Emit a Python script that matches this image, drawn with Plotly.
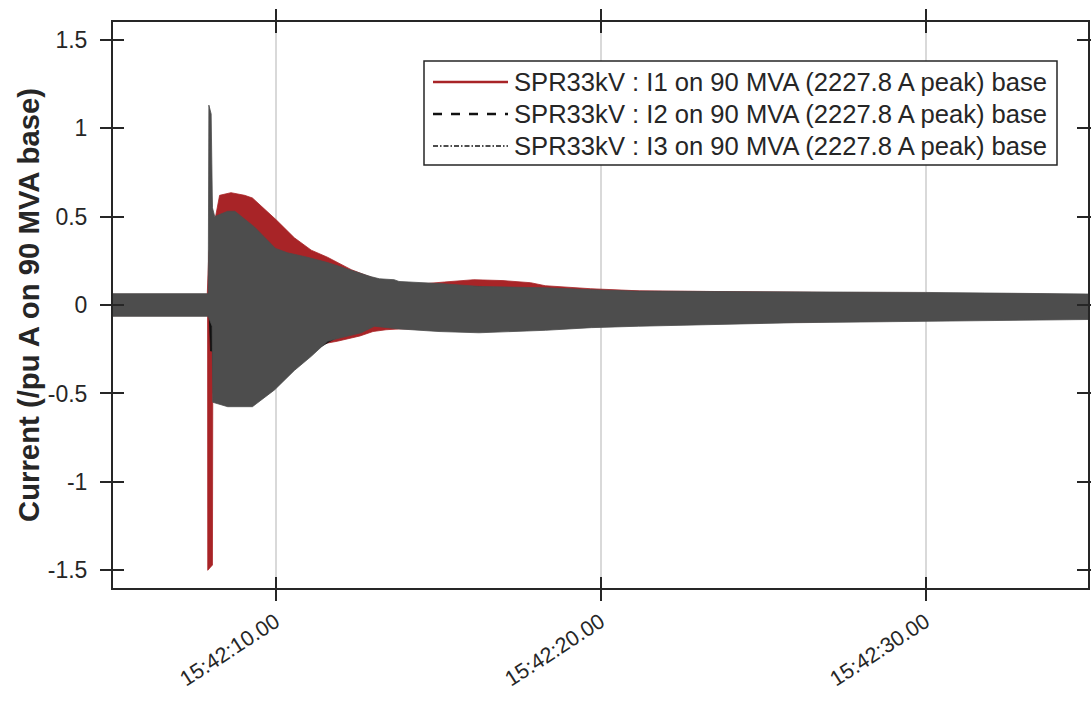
import plotly.graph_objects as go

DAY = "2019-08-09"

# ---- data: envelopes of the recorded phase currents (pu), time in s after 15:42:00 ----
i1_t_up = [5.0, 7.90, 7.95, 8.10, 8.16, 8.28, 8.63, 9.05, 9.29, 10.03, 10.58, 11.10, 11.60, 12.33, 12.82,
           13.20, 13.80, 14.70, 15.20, 16.10, 17.00, 17.85, 18.30, 19.70, 21.20, 30.0, 35.0]
i1_up = [0.060, 0.060, 0.30, 0.45, 0.50, 0.62, 0.635, 0.62, 0.605, 0.48, 0.38, 0.31, 0.27, 0.20, 0.165,
         0.14, 0.12, 0.122, 0.13, 0.143, 0.138, 0.126, 0.109, 0.092, 0.080, 0.068, 0.058]
i1_t_lo = [5.0, 7.91, 7.915, 8.06, 8.07, 8.30, 9.50, 10.50, 11.10, 11.60, 11.90, 12.60, 13.00, 13.40,
           13.80, 14.40, 15.00, 16.30, 18.30, 19.70, 21.20, 30.0, 35.0]
i1_lo = [-0.060, -0.060, -1.50, -1.47, -0.50, -0.50, -0.50, -0.35, -0.24, -0.215, -0.205, -0.175, -0.15,
         -0.14, -0.135, -0.135, -0.14, -0.145, -0.135, -0.12, -0.11, -0.085, -0.075]

i2_t_up = [5.0, 7.96, 8.00, 8.05, 8.10, 9.0, 10.0, 11.0, 12.0, 13.0, 15.0, 20.0, 30.0, 35.0]
i2_up = [0.058, 0.058, 0.80, 0.50, 0.45, 0.45, 0.29, 0.24, 0.19, 0.14, 0.11, 0.075, 0.065, 0.058]
i2_t_lo = [5.0, 7.96, 8.00, 8.06, 8.10, 9.0, 10.0, 11.0, 12.0, 13.0, 15.0, 20.0, 30.0, 35.0]
i2_lo = [-0.058, -0.058, -0.26, -0.26, -0.50, -0.52, -0.45, -0.28, -0.17, -0.11, -0.14, -0.11, -0.085, -0.075]

i3_t_up = [5.0, 7.93, 7.95, 8.02, 8.06, 8.13, 8.53, 8.75, 9.36, 10.0, 10.37, 10.98, 11.60, 12.42, 12.94,
           13.20, 13.65, 13.80, 14.72, 15.15, 16.26, 18.31, 19.75, 21.17, 30.0, 35.0]
i3_up = [0.064, 0.064, 1.13, 1.08, 0.55, 0.50, 0.53, 0.53, 0.44, 0.32, 0.295, 0.27, 0.24, 0.19, 0.16,
         0.148, 0.143, 0.133, 0.125, 0.12, 0.105, 0.097, 0.086, 0.078, 0.071, 0.062]
i3_t_lo = [5.0, 7.93, 8.05, 8.07, 8.20, 8.53, 9.29, 9.97, 10.58, 11.10, 11.60, 11.90, 12.64, 13.04,
           13.80, 15.03, 16.26, 18.31, 19.72, 21.17, 26.0, 30.0, 35.0]
i3_lo = [-0.064, -0.064, -0.12, -0.55, -0.56, -0.575, -0.575, -0.48, -0.37, -0.29, -0.205, -0.19,
         -0.157, -0.12, -0.135, -0.15, -0.157, -0.143, -0.128, -0.12, -0.10, -0.092, -0.082]

series_names = ["SPR33kV : I1 on 90 MVA (2227.8 A peak) base",
                "SPR33kV : I2 on 90 MVA (2227.8 A peak) base",
                "SPR33kV : I3 on 90 MVA (2227.8 A peak) base"]

x_range_s = [5.0, 35.0]
x_tick_s = [10.0, 20.0, 30.0]
x_tick_text = ["15:42:10.00", "15:42:20.00", "15:42:30.00"]
y_tick_vals = [-1.5, -1, -0.5, 0, 0.5, 1, 1.5]
y_tick_text = ["-1.5", "-1", "-0.5", "0", "0.5", "1", "1.5"]


def ts(s):
    return f"{DAY} 15:42:{s:06.3f}"


RED = "#a82427"
BLACK = "#111111"
GRAY = "#4d4d4d"
AX = "#262626"
FONT = "Liberation Sans, Arial, Helvetica, sans-serif"

W, H = 1091, 701
ML, MR, MT, MB = 113, 3, 22, 113

fig = go.Figure()


def band(t_up, up, t_lo, lo, color, name):
    xs = [ts(s) for s in t_up] + [ts(s) for s in t_lo[::-1]]
    ys = list(up) + list(lo[::-1])
    fig.add_trace(go.Scatter(x=xs, y=ys, mode="lines", fill="toself", fillcolor=color, name=name,
                             line=dict(color=color, width=0.8), hoverinfo="skip", showlegend=False))


band(i1_t_up, i1_up, i1_t_lo, i1_lo, RED, series_names[0])
band(i2_t_up, i2_up, i2_t_lo, i2_lo, BLACK, series_names[1])
band(i3_t_up, i3_up, i3_t_lo, i3_lo, GRAY, series_names[2])

# helper trace for the inner tick overlay axes
fig.add_trace(go.Scatter(x=[None], y=[None], xaxis="x2", yaxis="y2", showlegend=False,
                         hoverinfo="skip"))

xr = [ts(s) for s in x_range_s]
xt = [ts(s) for s in x_tick_s]

common_x = dict(type="date", range=xr, tickmode="array", tickvals=xt, zeroline=False, automargin=False)
common_y = dict(range=[-1.6, 1.6], tickmode="array", tickvals=y_tick_vals, zeroline=False, automargin=False)

# ---- legend box drawn in MATLAB style (long line samples) ----
pw = W - ML - MR
ph = H - MT - MB


def px2fx(px):
    return (px - ML) / pw


def py2fy(py):
    return 1 - (py - MT) / ph


shapes = [dict(type="rect", xref="paper", yref="paper",
               x0=px2fx(424), x1=px2fx(1057), y0=py2fy(165), y1=py2fy(61),
               line=dict(color=AX, width=1.5), fillcolor="white", layer="above")]
annotations = []
leg_styles = [(RED, "solid", 2.5), (BLACK, "dash", 2.5), (GRAY, "5px,2px,1.5px,2px", 2.0)]
row_y = [82, 114, 146]
for name, (c, d, w), ry in zip(series_names, leg_styles, row_y):
    shapes.append(dict(type="line", xref="paper", yref="paper",
                       x0=px2fx(433), x1=px2fx(508), y0=py2fy(ry), y1=py2fy(ry),
                       line=dict(color=c, width=w, dash=d), layer="above"))
    annotations.append(dict(text=name, xref="paper", yref="paper", x=px2fx(512), y=py2fy(ry),
                            xanchor="left", yanchor="middle", showarrow=False,
                            font=dict(size=25.6, color=AX, family=FONT)))

fig.update_layout(
    width=W, height=H,
    margin=dict(l=ML, r=MR, t=MT, b=MB),
    paper_bgcolor="white", plot_bgcolor="white",
    font=dict(family=FONT, color=AX),
    showlegend=False,
    xaxis=dict(**common_x, ticktext=x_tick_text, tickangle=-33,
               tickfont=dict(size=21.5, color=AX),
               showgrid=True, gridcolor="#d9d9d9", gridwidth=1.5,
               showline=True, linecolor=AX, linewidth=2, mirror="ticks",
               ticks="outside", ticklen=11, tickwidth=2, tickcolor=AX),
    yaxis=dict(**common_y, ticktext=y_tick_text, tickfont=dict(size=23, color=AX),
               showgrid=False, showline=True, linecolor=AX, linewidth=2, mirror="ticks",
               ticks="outside", ticklen=11, tickwidth=2, tickcolor=AX, ticklabelstandoff=8,
               title=dict(text="<b>Current (/pu A on 90 MVA base)</b>",
                          font=dict(size=29.3, color=AX, family=FONT), standoff=0)),
    xaxis2=dict(**common_x, overlaying="x", side="bottom", anchor="y2", showticklabels=False,
                showgrid=False, showline=True, linecolor=AX, linewidth=2, mirror="ticks",
                ticks="inside", ticklen=11, tickwidth=2, tickcolor=AX),
    yaxis2=dict(**common_y, overlaying="y", side="left", anchor="x2", showticklabels=False,
                showgrid=False, showline=True, linecolor=AX, linewidth=2, mirror="ticks",
                ticks="inside", ticklen=11, tickwidth=2, tickcolor=AX),
    shapes=shapes,
    annotations=annotations,
)

fig.write_html("out.html")
